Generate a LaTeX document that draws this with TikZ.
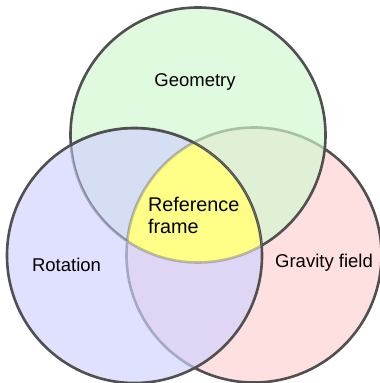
\documentclass[tikz,border=0pt]{standalone}
\usepackage{fontspec}
\setmainfont{Liberation Sans}
\usepackage{xcolor}

\definecolor{ringgray}{HTML}{505050}
\definecolor{geofill}{RGB}{209,248,209}
\definecolor{rotfill}{RGB}{209,209,255}
\definecolor{gravfill}{RGB}{255,224,224}
\definecolor{framefill}{RGB}{255,255,136}

\begin{document}
\begin{tikzpicture}[x=1pt, y=-1pt,
  ring/.style={draw=ringgray, line width=2.6pt},
  setname/.style={font=\fontsize{18.5}{25}\selectfont, inner sep=0pt},
  layer/.style={fill opacity=.68},
]
\useasboundingbox (0,0) rectangle (380,383);

\coordinate (geo) at (198,135);
\coordinate (rot) at (134.5,255.5);
\coordinate (grav) at (254,255);

% bottom to top: gravity, geometry, rotation
\fill[gravfill] (grav) circle[radius=127.5];
\draw[ring] (grav) circle[radius=127.5];

\fill[geofill, layer] (geo) circle[radius=127.5];
\draw[ring] (geo) circle[radius=127.5];

\fill[rotfill, layer] (rot) circle[radius=127.5];
\draw[ring] (rot) circle[radius=127.5];

% common part
\begin{scope}
  \clip (geo) circle[radius=127.5];
  \clip (rot) circle[radius=127.5];
  \fill[framefill] (grav) circle[radius=127.5];
  \draw[ring] (rot) circle[radius=127.5];
  \draw[ring, draw opacity=.35] (geo) circle[radius=127.5];
  \draw[ring, draw opacity=.3] (grav) circle[radius=127.5];
\end{scope}

\node[setname] (geotxt) at (195,82) {Geometry};
\node[setname] (rottxt) at (66.5,265) {Rotation};
\node[setname] (gravtxt) at (324,263) {Gravity field};
\node[setname, font=\fontsize{19.8}{22.4}\selectfont, align=left]
  (frametxt) at (193.7,215.5) {Reference\\frame};

\end{tikzpicture}
\end{document}
